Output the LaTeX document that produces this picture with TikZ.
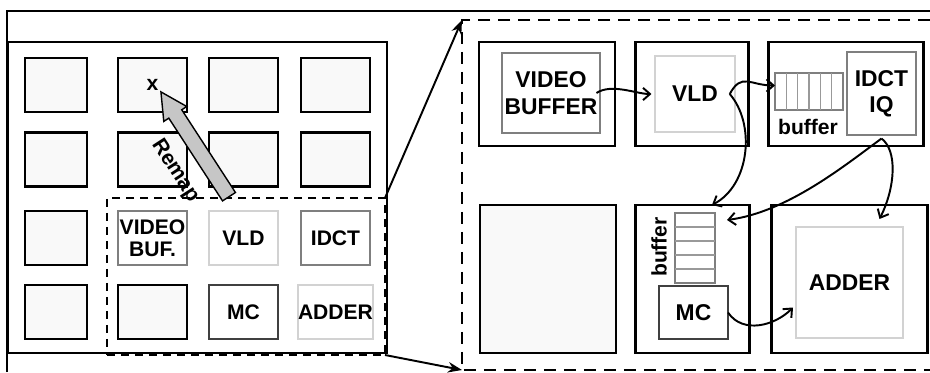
\documentclass[tikz,border=0pt]{standalone}
\usepackage{fontspec}
\setmainfont{Liberation Sans}
\usepackage{xcolor}
\usepackage{tikz}
\usetikzlibrary{arrows.meta, positioning, calc, shapes.arrows}
\definecolor{tilegray}{HTML}{F9F9F9}
\definecolor{midgray}{HTML}{7F7F7F}
\definecolor{litegray}{HTML}{D2D2D2}
\definecolor{darkgray}{HTML}{404040}
\definecolor{remapgray}{HTML}{C6C6C6}

\begin{document}
\begin{tikzpicture}[
  x=0.02cm, y=0.02cm,
  sz/.style 2 args={minimum width=#1*0.02cm, minimum height=#2*0.02cm},
  box/.style={rectangle, inner sep=0pt, outer sep=0pt, align=center,
    font=\fontsize{12}{12.5}\selectfont\bfseries},
  tile/.style={box, draw=black, line width=1.7pt, fill=tilegray},
  unitmid/.style={box, draw=midgray, line width=1.4pt, fill=white},
  unitlite/.style={box, draw=litegray, line width=1.4pt, fill=white},
  unitdark/.style={box, draw=darkgray, line width=1.6pt, fill=white},
  core/.style={box, draw=black, line width=1.7pt, fill=white},
  bigtxt/.style={font=\fontsize{13}{15}\selectfont\bfseries},
  fifo/.style={box, draw=midgray, line width=1.3pt, fill=white},
  fifoline/.style={draw=midgray!80, line width=0.7pt},
  region/.style={draw=black, line width=1.2pt, dash pattern=on 0.16cm off 0.12cm},
  detail/.style={draw=black, line width=1.6pt, dash pattern=on 0.24cm off 0.16cm},
  zoomarrow/.style={draw=black, line width=1.1pt, -{Stealth[length=8pt, width=6pt]}},
  flow/.style={draw=black, line width=1.1pt, -{Straight Barb[length=4pt, width=7pt]}},
  remap/.style={single arrow, draw=black, line width=0.8pt, fill=remapgray,
    inner xsep=0pt, inner ysep=0.14cm, single arrow head extend=0.12cm,
    single arrow tip angle=55, minimum height=2.5cm},
]
  \useasboundingbox (0,0) rectangle (930,-372);

  % outer frame
  \draw[line width=1.6pt] (7,-372) -- (7,-11) -- (930,-11);

  % chip with tile grid
  \node[box, draw=black, line width=1.2pt, sz={379}{311}] (chip) at (197.5,-197.5) {};

  \node[tile, sz={62}{54}] (t11) at (56,-85) {};
  \node[tile, sz={69}{54}] (tx) at (152.5,-85) {x};
  \node[tile, sz={69}{54}] (t13) at (243.5,-85) {};
  \node[tile, sz={69}{54}] (t14) at (335.5,-85) {};

  \node[tile, sz={62}{54}] (t21) at (56,-159.5) {};
  \node[tile, sz={69}{54}] (t22) at (152.5,-159.5) {};
  \node[tile, sz={69}{54}] (t23) at (243.5,-159.5) {};
  \node[tile, sz={69}{54}] (t24) at (335.5,-159.5) {};

  \node[tile, sz={62}{54}] (t31) at (56,-238) {};
  \node[unitmid, sz={69}{54}] (vbufL) at (152.5,-238) {VIDEO\\BUF.};
  \node[unitlite, sz={69}{54}] (vldL) at (243.5,-238) {VLD};
  \node[unitmid, sz={69}{54}] (idctL) at (335.5,-238) {IDCT};

  \node[tile, sz={62}{54}] (t41) at (56,-312) {};
  \node[tile, sz={69}{54}] (t42) at (152.5,-312) {};
  \node[unitdark, sz={69}{54}] (mcL) at (243.5,-312) {MC};
  \node[unitlite, sz={69}{54}] (adderL) at (335.5,-312) {ADDER};

  % mapped region
  \node[region, box, sz={278}{157}] (decoder) at (246,-276.5) {};

  % remap arrow
  \node[remap, rotate=123] (remap) at (199,-150.5) {};
  \node[font=\fontsize{12}{12.5}\selectfont\bfseries, rotate=-57] (remaplbl) at (175,-171) {Remap};

  % zoomed view
  \coordinate (dtl) at (462,-20);
  \coordinate (dbl) at (462,-370);
  \draw[detail] (930,-20) -- (dtl) -- (dbl) -- (930,-370);
  \draw[zoomarrow] (decoder.north east) -- (dtl);
  \draw[zoomarrow] (decoder.south east) -- (dbl);

  % top row
  \node[core, sz={136}{104}] (vbOut) at (547,-94) {};
  \node[unitmid, sz={98}{80}, bigtxt] (vbIn) at (551,-93) {VIDEO\\BUFFER};

  \node[core, sz={113}{104}] (vldOut) at (691.5,-94) {};
  \node[unitlite, sz={80}{76}, bigtxt] (vldIn) at (695,-94) {VLD};

  \node[core, sz={155}{104}] (idOut) at (845.5,-94) {};
  \node[unitmid, sz={69}{83}, bigtxt] (idIn) at (881.5,-93.5) {IDCT\\IQ};
  \node[fifo, sz={68}{37}] (buf1) at (809,-91.5) {};
  \foreach \k in {1,...,5}
    \draw[fifoline] ($(buf1.south west)!\k/6!(buf1.south east)$) -- ($(buf1.north west)!\k/6!(buf1.north east)$);
  \node[font=\fontsize{12}{12.5}\selectfont\bfseries] (buf1lbl) at (808,-127) {buffer};

  % bottom row
  \node[tile, sz={136}{148}] (spare) at (548,-279) {};

  \node[core, sz={114}{148}] (mcOut) at (692,-279) {};
  \node[fifo, sz={40}{70}] (buf2) at (695,-248) {};
  \foreach \k in {1,...,4}
    \draw[fifoline] ($(buf2.north west)!\k/5!(buf2.south west)$) -- ($(buf2.north east)!\k/5!(buf2.south east)$);
  \node[font=\fontsize{12}{12.5}\selectfont\bfseries, rotate=90] (buf2lbl) at (659,-247) {buffer};
  \node[unitdark, sz={69}{53}, bigtxt] (mcIn) at (693.5,-312.5) {MC};

  \node[core, sz={156}{148}] (adOut) at (849,-279) {};
  \node[unitlite, sz={107}{111}, bigtxt] (adIn) at (849.5,-282.5) {ADDER};

  % data flow
  \draw[flow] ([xshift=-2pt]vbIn.east) .. controls +(15,10) and +(-15,0) .. ([xshift=-2pt]vldIn.west);
  \draw[flow] ([xshift=-3pt]vldIn.east) .. controls +(12,22) and +(-25,0) .. ($(buf1.west)+(0,6)$);
  \draw[flow] ([xshift=-3pt]vldIn.east) .. controls +(26,-30) and +(38,20) .. ($(mcOut.north)!0.35!(mcOut.north east)$);
  \draw[flow] ([yshift=-2pt]idIn.south) .. controls +(-38,-28) and +(60,8) .. ($(buf2.north east)+(12,-7)$);
  \draw[flow] ([yshift=-2pt]idIn.south) .. controls +(16,-12) and +(16,32) .. ($(adIn.north)+(30,8)$);
  \draw[flow] (mcIn.east) .. controls +(15,-22) and +(-18,-18) .. ($(adIn.west)+(-3,-25)$);
\end{tikzpicture}
\end{document}
